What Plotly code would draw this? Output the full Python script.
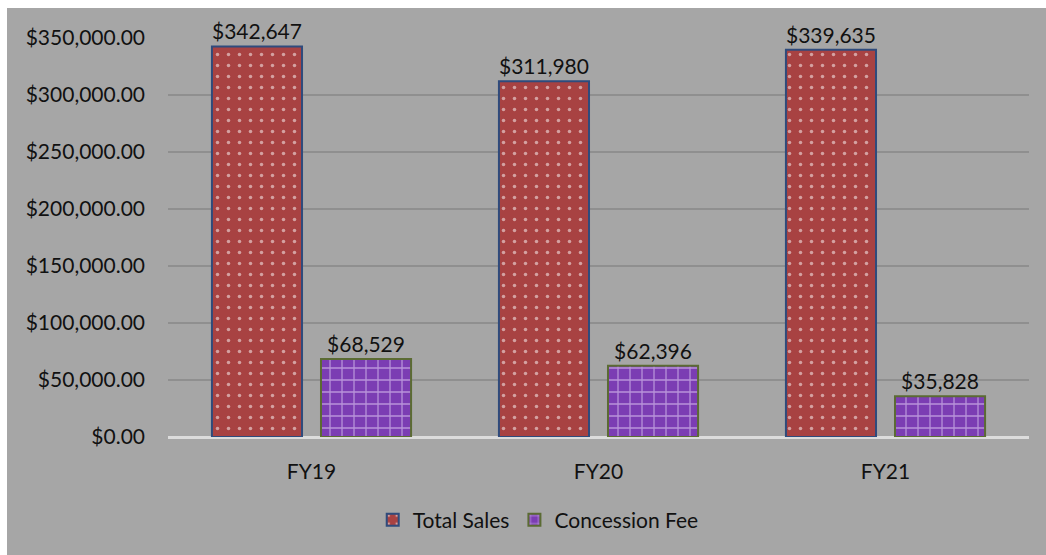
import plotly.graph_objects as go

categories = ["FY19", "FY20", "FY21"]
total_sales = [342647, 311980, 339635]
concession_fee = [68529, 62396, 35828]
series_names = ["Total Sales", "Concession Fee"]

W, H = 1046, 555
L, R, T, B = 168, 17, 38, 118
pw, ph = W - L - R, H - T - B

font = "Lato, 'Open Sans', sans-serif"
FS = 21

fig = go.Figure()
fig.add_trace(go.Bar(
    x=categories, y=total_sales, name=series_names[0],
    marker=dict(color="#a84242", line=dict(color="#2f4b7c", width=2),
                pattern=dict(shape=".", fgcolor="white", bgcolor="#a84242", size=11, solidity=0.08)),
    text=[f"${v:,.0f}" for v in total_sales], textposition="outside",
    textfont=dict(size=FS, color="#111111", family=font), cliponaxis=False,
))
fig.add_trace(go.Bar(
    x=categories, y=concession_fee, name=series_names[1],
    marker=dict(color="#7b3db3", line=dict(color="#5b6b33", width=2),
                pattern=dict(shape="+", fgcolor="#f3e8ff", bgcolor="#7b3db3", size=12, solidity=0.2)),
    text=[f"${v:,.0f}" for v in concession_fee], textposition="outside",
    textfont=dict(size=FS, color="#111111", family=font), cliponaxis=False,
))

fig.add_shape(type="rect", xref="paper", yref="paper",
              x0=(7 - L) / pw, x1=(W - L) / pw,
              y0=-(H - T - ph) / ph, y1=(ph + T - 8) / ph,
              fillcolor="#a6a6a6", line=dict(width=0), layer="below")

fig.update_layout(
    width=W, height=H,
    margin=dict(l=L, r=R, t=T, b=B, autoexpand=False),
    paper_bgcolor="white", plot_bgcolor="rgba(0,0,0,0)",
    barmode="group", bargap=0.24, bargroupgap=0.174,
    font=dict(family=font, size=FS, color="#111111"),
    showlegend=True,
    legend=dict(orientation="h", x=0.43, xanchor="center", y=-0.208, yanchor="middle",
                font=dict(size=FS), bgcolor="rgba(0,0,0,0)"),
)
fig.update_yaxes(range=[0, 350000], dtick=50000, tickformat="$,.2f",
                 showgrid=True, gridcolor="#8f8f8f", gridwidth=1.5,
                 zeroline=True, zerolinecolor="#dcdcdc", zerolinewidth=2.5,
                 showline=False, ticks="", ticklabelstandoff=22,
                 tickfont=dict(size=FS))
fig.update_xaxes(showline=False, ticks="", ticklabelstandoff=20, tickfont=dict(size=FS))

fig.write_html("out.html")
